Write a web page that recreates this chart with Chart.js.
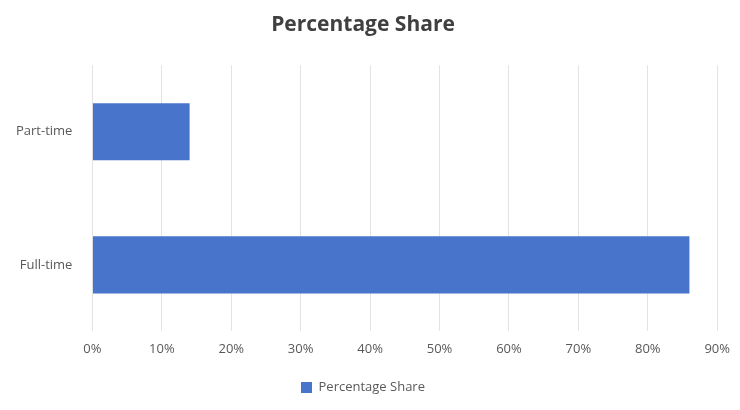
<!DOCTYPE html>
<html>
<head>
<meta charset="utf-8">
<script src="https://cdn.jsdelivr.net/npm/chart.js@4"></script>
<style>
body { margin: 0; background: #fff; }
#wrap { width: 740px; height: 410px; }
</style>
</head>
<body>
<div id="wrap"><canvas id="c"></canvas></div>
<script>
const categories = ['Part-time', 'Full-time'];
const shareValues = [14, 86];
const seriesName = 'Percentage Share';

const ctx = document.getElementById('c').getContext('2d');
new Chart(ctx, {
    type: 'bar',
    data: {
        labels: categories,
        datasets: [{
            label: seriesName,
            data: shareValues,
            backgroundColor: '#4874cb',
            categoryPercentage: 1,
            barPercentage: 0.43
        }]
    },
    options: {
        indexAxis: 'y',
        responsive: true,
        maintainAspectRatio: false,
        animation: false,
        layout: { padding: { left: 4, right: 18, top: 4, bottom: 6 } },
        font: { family: 'Open Sans' },
        plugins: {
            title: {
                display: true,
                text: seriesName,
                color: '#404040',
                font: { family: 'Open Sans', size: 21, weight: 'bold' },
                padding: { top: 8, bottom: 28 }
            },
            legend: {
                position: 'bottom',
                labels: {
                    color: '#595959',
                    boxWidth: 11,
                    boxHeight: 11,
                    font: { family: 'Open Sans', size: 13 },
                    padding: 14
                }
            },
            tooltip: { enabled: false }
        },
        scales: {
            x: {
                min: 0,
                max: 90,
                ticks: {
                    stepSize: 10,
                    color: '#595959',
                    font: { family: 'Open Sans', size: 13 },
                    callback: v => v + '%',
                    padding: 10
                },
                grid: { color: '#e3e3e3', drawTicks: false },
                border: { display: false }
            },
            y: {
                ticks: {
                    color: '#595959',
                    font: { family: 'Open Sans', size: 13 },
                    padding: 12
                },
                grid: { display: false },
                border: { display: false }
            }
        }
    }
});
</script>
</body>
</html>
